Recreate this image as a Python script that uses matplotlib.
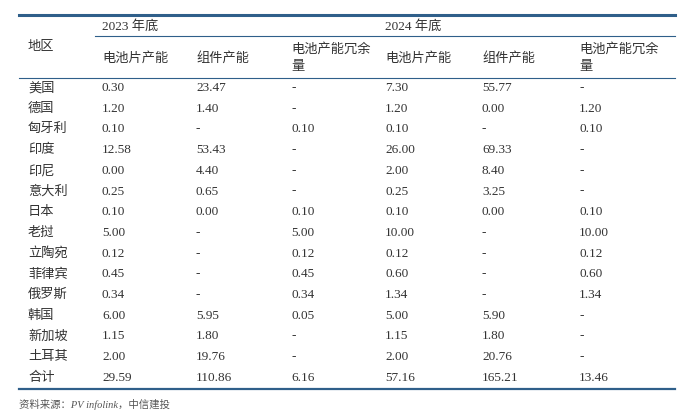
import matplotlib.pyplot as plt

plt.rcParams['font.family'] = ['Liberation Serif', 'Noto Sans CJK SC']

regions = ['美国', '德国', '匈牙利', '印度', '印尼', '意大利', '日本', '老挝',
           '立陶宛', '菲律宾', '俄罗斯', '韩国', '新加坡', '土耳其', '合计']
cell_2023 = ['0.30', '1.20', '0.10', '12.58', '0.00', '0.25', '0.10', '5.00',
             '0.12', '0.45', '0.34', '6.00', '1.15', '2.00', '29.59']
module_2023 = ['23.47', '1.40', '-', '53.43', '4.40', '0.65', '0.00', '-',
               '-', '-', '-', '5.95', '1.80', '19.76', '110.86']
surplus_2023 = ['-', '-', '0.10', '-', '-', '-', '0.10', '5.00',
                '0.12', '0.45', '0.34', '0.05', '-', '-', '6.16']
cell_2024 = ['7.30', '1.20', '0.10', '26.00', '2.00', '0.25', '0.10', '10.00',
             '0.12', '0.60', '1.34', '5.00', '1.15', '2.00', '57.16']
module_2024 = ['55.77', '0.00', '-', '69.33', '8.40', '3.25', '0.00', '-',
               '-', '-', '-', '5.90', '1.80', '20.76', '165.21']
surplus_2024 = ['-', '1.20', '0.10', '-', '-', '-', '0.10', '10.00',
                '0.12', '0.60', '1.34', '-', '-', '-', '13.46']
sub_headers = ['电池片产能', '组件产能', '电池产能冗余\n量'] * 2
years = ['2023 年底', '2024 年底']

W, H = 693, 417
fig = plt.figure(figsize=(W / 100, H / 100), dpi=100)
ax = fig.add_axes([0, 0, 1, 1])
ax.set_xlim(0, W)
ax.set_ylim(H, 0)
ax.axis('off')

line_c = '#2f5f8a'
txt_c = '#333333'
fs = 9.5
col_x = [28, 102, 196, 291, 385, 482, 579]

ax.plot([19, 675], [15, 15], color=line_c, lw=2.2)
ax.plot([95, 675], [36, 36], color=line_c, lw=0.8)
ax.plot([19, 675], [78, 78], color=line_c, lw=0.8)
ax.plot([19, 675], [389, 389], color=line_c, lw=1.6)

ax.text(col_x[0], 47, '地区', fontsize=fs, color=txt_c, va='center')
ax.text(col_x[1], 26, years[0], fontsize=fs, color=txt_c, va='center')
ax.text(col_x[4], 26, years[1], fontsize=fs, color=txt_c, va='center')
for i, h in enumerate(sub_headers):
    ax.text(col_x[i + 1], 58, h, fontsize=fs, color=txt_c, va='center', linespacing=1.6)

cols = [regions, cell_2023, module_2023, surplus_2023, cell_2024, module_2024, surplus_2024]
for r in range(len(regions)):
    y = 88 + r * 20.7
    for c, col in enumerate(cols):
        ax.text(col_x[c], y, col[r], fontsize=fs, color=txt_c, va='center')

ax.text(19, 404, '资料来源：PV infolink，中信建投', fontsize=7.5, color='#555555',
        va='center', style='italic')

fig.savefig('out.png', dpi=100)
